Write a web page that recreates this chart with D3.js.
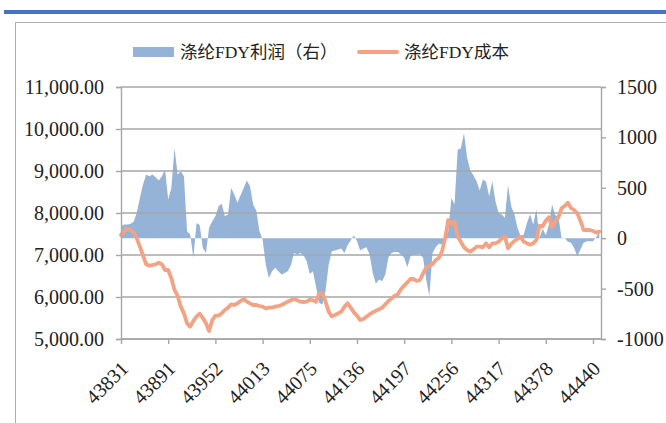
<!DOCTYPE html>
<html>
<head>
<meta charset="utf-8">
<script src="https://cdn.jsdelivr.net/npm/d3@7/dist/d3.min.js"></script>
<style>
  html, body {
    margin: 0;
    padding: 0;
    background: #fff;
  }
  svg text {
    font-family: 'Liberation Serif', 'Noto Sans CJK SC', serif;
    fill: #222;
  }
</style>
</head>
<body>
<div id="chart"></div>
<script>
// 涤纶FDY利润 (right axis), one value per sampled trading day
var profit = [
  119, 136, 136, 142, 162, 251, 400, 532, 632, 615,
  632, 605, 572, 615, 681, 384, 499, 896, 632, 665,
  615, 69, 36, -195, 152, 130, -96, -146, 103, 169,
  218, 317, 341, 218, 235, 499, 433, 351, 427, 499,
  572, 516, 334, 274, 69, -13, -261, -394, -327, -294,
  -327, -360, -344, -327, -268, -146, -162, -146, -169, -228,
  -354, -327, -486, -642, -658, -526, -261, -129, -122, -112,
  -103, -146, -69, -23, 30, -30, -122, -103, -89, -162,
  -344, -453, -410, -427, -360, -189, -146, -136, -136, -162,
  -195, -288, -179, -162, -162, -155, -195, -410, -575, -146,
  -89, -56, -60, -30, 69, 400, 334, 880, 890, 1040,
  797, 671, 625, 565, 473, 582, 559, 417, 565, 367,
  251, 235, 202, 526, 317, 241, 103, 20, 36, 152,
  235, 136, 284, 3, 96, 30, 136, 334, 228, 218,
  3, 3, -36, -46, -96, -179, -112, -46, -30, -30,
  -30, 10, 69
];

// 涤纶FDY成本 (left axis)
var cost = [
  7476, 7571, 7619, 7595, 7540, 7397, 7198, 6984, 6778, 6746,
  6762, 6778, 6817, 6778, 6643, 6643, 6444, 6167, 6032, 5770,
  5611, 5373, 5294, 5429, 5532, 5603, 5500, 5373, 5190, 5452,
  5555, 5555, 5611, 5690, 5746, 5825, 5810, 5849, 5905, 5952,
  5889, 5849, 5810, 5810, 5786, 5770, 5730, 5746, 5746, 5770,
  5786, 5810, 5849, 5889, 5921, 5952, 5921, 5889, 5881, 5889,
  5937, 5921, 5889, 6087, 6087, 5889, 5651, 5540, 5571, 5611,
  5651, 5770, 5849, 5746, 5635, 5555, 5452, 5476, 5532, 5587,
  5635, 5675, 5706, 5746, 5825, 5905, 5968, 6032, 6063, 6190,
  6270, 6349, 6429, 6429, 6381, 6405, 6563, 6698, 6746, 6778,
  6881, 6930, 7080, 7397, 7833, 7754, 7794, 7437, 7317, 7183,
  7119, 7079, 7135, 7198, 7198, 7183, 7278, 7183, 7278, 7278,
  7317, 7397, 7437, 7159, 7262, 7333, 7381, 7437, 7317, 7278,
  7246, 7278, 7357, 7690, 7690, 7817, 7897, 7659, 7810, 7897,
  8111, 8167, 8246, 8119, 8071, 7992, 7817, 7595, 7595, 7595,
  7571, 7532, 7556
];

var tickLabels = ['43831', '43891', '43952', '44013', '44075', '44136',
  '44197', '44256', '44317', '44378', '44440'];
var ticksEvery = 15;

var leftTicks = [5000, 6000, 7000, 8000, 9000, 10000, 11000];
var rightTicks = [-1000, -500, 0, 500, 1000, 1500];

var legendNames = ['涤纶FDY利润（右）', '涤纶FDY成本'];

var Chart = {
  create: function() {
    var instance = Object.assign({}, this.prototype);

    this.init.apply(instance, arguments);

    return instance;
  },

  init: function(config) {
    this.areaColor = config.areaColor;
    this.lineColor = config.lineColor;
    this.gridColor = config.gridColor;

    this.plot = { left: 121, top: 87, right: 601, bottom: 339 };

    this.svg = d3.select(config.elem)
      .append('svg')
      .attr('width', config.width)
      .attr('height', config.height);

    this.x = d3.scaleLinear()
      .domain([0, ticksEvery])
      .range([this.plot.left, this.plot.left + 47.2]);

    this.yLeft = d3.scaleLinear()
      .domain([5000, 11000])
      .range([this.plot.bottom, this.plot.top]);

    this.yRight = d3.scaleLinear()
      .domain([-1000, 1500])
      .range([this.plot.bottom, this.plot.top]);
  },

  prototype: {
    drawFrame: function() {
      this.svg.append('rect')
        .attr('x', 4)
        .attr('y', 10)
        .attr('width', 662)
        .attr('height', 4)
        .attr('fill', '#4472C4');

      this.svg.append('rect')
        .attr('x', 15.5)
        .attr('y', 22.5)
        .attr('width', 700)
        .attr('height', 500)
        .attr('fill', 'none')
        .attr('stroke', '#ADADAD')
        .attr('stroke-width', 1);
    },

    drawSeries: function() {
      var x = this.x;
      var yRight = this.yRight;
      var yLeft = this.yLeft;

      var area = d3.area()
        .x(function(d, i) { return x(i); })
        .y0(yRight(0))
        .y1(function(d) { return yRight(d); });

      this.svg.append('path')
        .datum(profit)
        .attr('d', area)
        .attr('fill', this.areaColor);

      // gridlines sit over the area but under the line
      this.svg.append('g')
        .attr('class', 'grid')
        .selectAll('line')
        .data(leftTicks)
        .enter()
        .append('line')
        .attr('x1', this.plot.left)
        .attr('x2', this.plot.right)
        .attr('y1', function(d) { return yLeft(d); })
        .attr('y2', function(d) { return yLeft(d); })
        .attr('stroke', this.gridColor)
        .attr('stroke-width', 1.4);

      var line = d3.line()
        .x(function(d, i) { return x(i); })
        .y(function(d) { return yLeft(d); });

      this.svg.append('path')
        .datum(cost)
        .attr('d', line)
        .attr('fill', 'none')
        .attr('stroke', this.lineColor)
        .attr('stroke-width', 3.8)
        .attr('stroke-linejoin', 'round')
        .attr('stroke-linecap', 'round');
    },

    styleAxis: function(g) {
      g.selectAll('.domain, .tick line')
        .attr('stroke', this.gridColor)
        .attr('stroke-width', 1.4);

      g.selectAll('text')
        .attr('font-family', null)
        .style('font-size', '20px')
        .attr('fill', '#222');
    },

    drawAxes: function() {
      var leftAxis = d3.axisLeft(this.yLeft)
        .tickValues(leftTicks)
        .tickFormat(d3.format(',.2f'))
        .tickSize(5)
        .tickPadding(12);

      // plain hyphen for negatives, as in the original
      var rightAxis = d3.axisRight(this.yRight)
        .tickValues(rightTicks)
        .tickFormat(function(d) { return String(d); })
        .tickSize(5)
        .tickPadding(11);

      var bottomAxis = d3.axisBottom(this.x)
        .tickValues(tickLabels.map(function(d, k) { return k * ticksEvery; }))
        .tickFormat(function(i) { return tickLabels[i / ticksEvery]; })
        .tickSize(5)
        .tickSizeOuter(0);

      var gl = this.svg.append('g')
        .attr('transform', 'translate(' + this.plot.left + ',0)')
        .call(leftAxis);
      this.styleAxis(gl);

      var gr = this.svg.append('g')
        .attr('transform', 'translate(' + this.plot.right + ',0)')
        .call(rightAxis);
      this.styleAxis(gr);

      var gb = this.svg.append('g')
        .attr('transform', 'translate(0,' + this.plot.bottom + ')')
        .call(bottomAxis);
      gb.select('.domain')
        .attr('d', 'M' + this.plot.left + ',0H' + this.plot.right);
      this.styleAxis(gb);

      gb.selectAll('text')
        .attr('text-anchor', 'end')
        .attr('transform', 'translate(3,26) rotate(-45)')
        .attr('dy', '0.35em')
        .attr('y', 0)
        .attr('x', 0);
    },

    drawLegend: function() {
      var legend = this.svg.append('g')
        .attr('class', 'legend');

      legend.append('rect')
        .attr('x', 133)
        .attr('y', 47)
        .attr('width', 41)
        .attr('height', 10)
        .attr('fill', this.areaColor);

      legend.append('text')
        .attr('x', 180)
        .attr('y', 52)
        .attr('dy', '0.35em')
        .style('font-size', '17.5px')
        .text(legendNames[0]);

      legend.append('line')
        .attr('x1', 359)
        .attr('x2', 397)
        .attr('y1', 52)
        .attr('y2', 52)
        .attr('stroke', this.lineColor)
        .attr('stroke-width', 4)
        .attr('stroke-linecap', 'round');

      legend.append('text')
        .attr('x', 404)
        .attr('y', 52)
        .attr('dy', '0.35em')
        .style('font-size', '17.5px')
        .text(legendNames[1]);
    },

    draw: function() {
      this.drawFrame();
      this.drawSeries();
      this.drawAxes();
      this.drawLegend();
    }
  }
};

var chart = Chart.create({
  elem: '#chart',
  width: 666,
  height: 423,
  areaColor: '#95B3D7',
  lineColor: '#F3A383',
  gridColor: '#A6A6A6'
});

chart.draw();
</script>
</body>
</html>
